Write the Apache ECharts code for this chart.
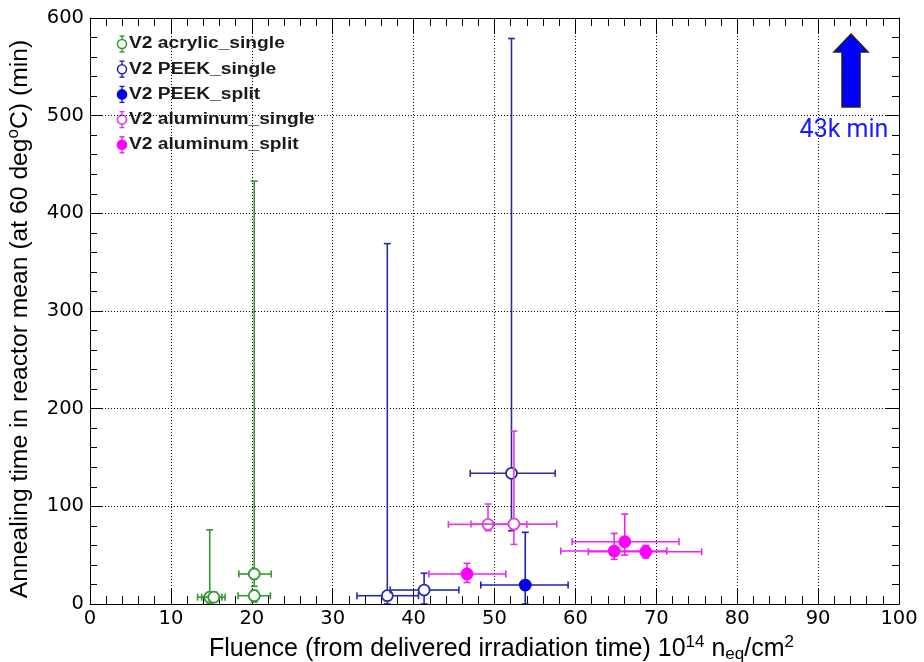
<!DOCTYPE html>
<html><head><meta charset="utf-8">
<script src="https://cdn.jsdelivr.net/npm/echarts@6/dist/echarts.min.js"></script>
<style>html,body{margin:0;padding:0;background:#fff}#c{width:924px;height:662px}</style>
</head><body><div id="c"></div>
<script>
// ---- data (fluence x, annealing time y, and error extents) ----
const seriesNames = ['V2 acrylic_single','V2 PEEK_single','V2 PEEK_split','V2 aluminum_single','V2 aluminum_split'];

const acrylicX   = [14.8, 15.3, 20.3, 20.3];
const acrylicY   = [7.0, 7.0, 30.7, 8.5];
const acrylicXlo = [13.3, 13.8, 18.4, 18.3];
const acrylicXhi = [16.3, 16.7, 22.4, 22.3];
const acrylicYlo = [0, 2, 18, 2];
const acrylicYhi = [76, 12, 433, 14];

const peekSingleX   = [36.75, 41.3, 52.1];
const peekSingleY   = [8.5, 14.3, 133.8];
const peekSingleXlo = [33.0, 37.1, 47.0];
const peekSingleXhi = [40.6, 45.6, 57.5];
const peekSingleYlo = [0, 0, 75];
const peekSingleYhi = [369, 31.5, 579];

const peekSplitX   = [53.8];
const peekSplitY   = [19.4];
const peekSplitXlo = [48.3];
const peekSplitXhi = [59.1];
const peekSplitYlo = [0];
const peekSplitYhi = [73.4];

const alSingleX   = [49.2, 52.4];
const alSingleY   = [81.5, 81.8];
const alSingleXlo = [44.3, 47.1];
const alSingleXhi = [54.0, 57.7];
const alSingleYlo = [75, 61];
const alSingleYhi = [102.4, 177];

const alSplitX   = [46.6, 64.8, 66.1, 68.7];
const alSplitY   = [30.7, 54.2, 63.8, 53.5];
const alSplitXlo = [41.9, 58.2, 59.6, 61.6];
const alSplitXhi = [51.4, 71.3, 72.8, 75.6];
const alSplitYlo = [22, 45.7, 50, 47];
const alSplitYhi = [41.6, 72.3, 92, 60];

const xTickLabels = ['0','10','20','30','40','50','60','70','80','90','100'];
const yTickLabels = ['0','100','200','300','400','500','600'];

// ---- helpers ----
function rows(x, y, xlo, xhi, ylo, yhi) {
  return x.map((v, i) => [v, y[i], xlo[i], xhi[i], ylo[i], yhi[i]]);
}
const styles = [
  {line:'#339933', stroke:'#339933', fill:'#ffffff'},
  {line:'#2a2aa8', stroke:'#2a2aa8', fill:'#ffffff'},
  {line:'#2020b0', stroke:'#0000e6', fill:'#0000e6'},
  {line:'#e040e0', stroke:'#e040e0', fill:'#ffffff'},
  {line:'#ee22ee', stroke:'#ff00ff', fill:'#ff00ff'}
];
const datasets = [
  rows(acrylicX, acrylicY, acrylicXlo, acrylicXhi, acrylicYlo, acrylicYhi),
  rows(peekSingleX, peekSingleY, peekSingleXlo, peekSingleXhi, peekSingleYlo, peekSingleYhi),
  rows(peekSplitX, peekSplitY, peekSplitXlo, peekSplitXhi, peekSplitYlo, peekSplitYhi),
  rows(alSingleX, alSingleY, alSingleXlo, alSingleXhi, alSingleYlo, alSingleYhi),
  rows(alSplitX, alSplitY, alSplitXlo, alSplitXhi, alSplitYlo, alSplitYhi)
];

function makeRender(cfg) {
  return function (params, api) {
    const x = api.value(0), y = api.value(1);
    const c = api.coord([x, y]);
    const xl = api.coord([api.value(2), y])[0];
    const xh = api.coord([api.value(3), y])[0];
    const yl = api.coord([x, api.value(4)])[1];
    const yh = api.coord([x, api.value(5)])[1];
    const r = 5.5, cap = 3.5;
    const ls = {stroke: cfg.line, lineWidth: 1.6};
    const ch = [];
    const seg = (x1, y1, x2, y2) => ch.push({type:'line', shape:{x1, y1, x2, y2}, style: ls});
    if (c[0] - r > xl) seg(xl, c[1], c[0] - r, c[1]);
    seg(xl, c[1] - cap, xl, c[1] + cap);
    if (xh > c[0] + r) seg(c[0] + r, c[1], xh, c[1]);
    seg(xh, c[1] - cap, xh, c[1] + cap);
    if (yh < c[1] - r) seg(c[0], yh, c[0], c[1] - r);
    seg(c[0] - cap, yh, c[0] + cap, yh);
    if (yl > c[1] + r) seg(c[0], c[1] + r, c[0], yl);
    seg(c[0] - cap, yl, c[0] + cap, yl);
    ch.push({type:'circle', shape:{cx:c[0], cy:c[1], r:r}, style:{fill:cfg.fill, stroke:cfg.stroke, lineWidth:1.8}});
    return {type:'group', children: ch};
  };
}

const tickFont = {fontFamily:'DejaVu Sans', fontSize:19.5, color:'#000'};
const titleFont = 'Liberation Sans';
const supStyle = {fontFamily:titleFont, fontSize:17, lineHeight:17, color:'#000', padding:[0,0,14,0]};
const subStyle = {fontFamily:titleFont, fontSize:17, lineHeight:17, color:'#000', padding:[9,0,0,0]};

function axisCommon(isX, main) {
  return {
    type:'value',
    min: 0, max: isX ? 100 : 600, interval: isX ? 10 : 100,
    axisLine:{show:true, onZero:false, lineStyle:{color:'#000', width:1}},
    axisTick:{show:true, inside:true, length: isX ? 15 : 13, lineStyle:{color:'#000', width:1}},
    minorTick:{show:true, splitNumber:5, length: isX ? 8 : 7, lineStyle:{color:'#000', width:1}},
    splitLine:{show: main, lineStyle:{type:[1,2], color:'#000', width:1}},
    axisLabel: main ? Object.assign({show:true, margin: isX ? 5 : 6,
      formatter: v => (isX ? xTickLabels : yTickLabels)[Math.round(v / (isX ? 10 : 100))]}, tickFont) : {show:false}
  };
}

const xMain = Object.assign(axisCommon(true, true), {
  position:'bottom',
  name:'{gap| }{t|Fluence (from delivered irradiation time) 10}{sup|14}{t| n}{sub|eq}{t|/cm}{sup|2}',
  nameLocation:'middle', nameGap:26,
  nameTextStyle:{fontFamily:titleFont, fontSize:25, color:'#000',
    rich:{gap:{fontFamily:titleFont, fontSize:25, lineHeight:28, width:14},
          t:{fontFamily:titleFont, fontSize:25, lineHeight:28, color:'#000'},
          sup:supStyle, sub:subStyle}}
});
const xTop = Object.assign(axisCommon(true, false), {position:'top'});
const yMain = Object.assign(axisCommon(false, true), {
  position:'left',
  name:'{t|Annealing time in reactor mean (at 60 deg}{sup|o}{t|C) (min)}{gap| }',
  nameLocation:'middle', nameGap:55,
  nameTextStyle:{fontFamily:titleFont, fontSize:24.7, color:'#000',
    rich:{gap:{fontFamily:titleFont, fontSize:24.7, lineHeight:28, width:16},
          t:{fontFamily:titleFont, fontSize:24.7, lineHeight:28, color:'#000'},
          sup:supStyle}}
});
const yRight = Object.assign(axisCommon(false, false), {position:'right'});

const series = datasets.map((d, i) => ({
  type:'custom', name: seriesNames[i],
  xAxisIndex:0, yAxisIndex:0,
  encode:{x:[0,2,3], y:[1,4,5]},
  renderItem: makeRender(styles[i]),
  clip: true,
  data: d,
  z: 2 + i
}));

// legend drawn as graphic (marker with error bar + bold label)
const legendGraphics = [];
seriesNames.forEach((nm, i) => {
  const yc = 44 + i * 25.2, xc = 122;
  const st = styles[i];
  legendGraphics.push({type:'line', shape:{x1:xc, y1:yc-8, x2:xc, y2:yc+8}, style:{stroke:st.line, lineWidth:1.4}});
  legendGraphics.push({type:'line', shape:{x1:xc-2.5, y1:yc-8, x2:xc+2.5, y2:yc-8}, style:{stroke:st.line, lineWidth:1.4}});
  legendGraphics.push({type:'line', shape:{x1:xc-2.5, y1:yc+8, x2:xc+2.5, y2:yc+8}, style:{stroke:st.line, lineWidth:1.4}});
  legendGraphics.push({type:'circle', shape:{cx:xc, cy:yc, r:4.5}, style:{fill:st.fill, stroke:st.stroke, lineWidth:1.6}});
  legendGraphics.push({type:'text', x:129, y:yc, scaleX:1.2,
    style:{text:nm, fontFamily:'Liberation Sans', fontWeight:'bold', fontSize:16, fill:'#1a1a1a', textAlign:'left', textVerticalAlign:'middle'}});
});

// annotation arrow with text
legendGraphics.push({type:'polygon',
  shape:{points:[[851,34],[868,52],[860,52],[860,107],[842,107],[842,52],[834,52]]},
  style:{fill:'#0000ff', stroke:'#222', lineWidth:1.5}, z:10});
legendGraphics.push({type:'text', x:844, y:131,
  style:{text:'43k min', fontFamily:'Roboto', fontSize:25, fill:'#1a1aff', textAlign:'center', textVerticalAlign:'middle'}, z:10});

const chart = echarts.init(document.getElementById('c'), null, {renderer:'canvas'});
chart.setOption({
  backgroundColor:'#ffffff',
  animation:false,
  grid:{left:90, right:25, top:18, bottom:58, containLabel:false, outerBoundsMode:'none'},
  xAxis:[xMain, xTop],
  yAxis:[yMain, yRight],
  series: series,
  graphic: legendGraphics
});
</script>
</body></html>
